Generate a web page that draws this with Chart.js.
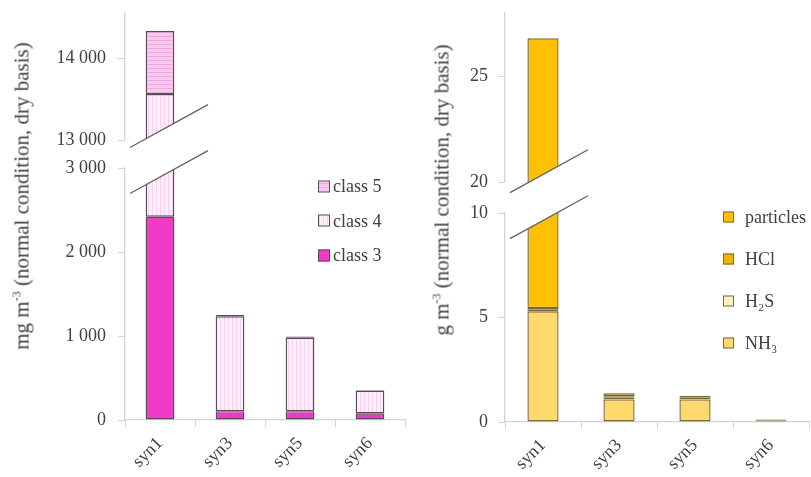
<!DOCTYPE html>
<html>
<head>
<meta charset="utf-8">
<script src="https://cdn.jsdelivr.net/npm/chart.js@4.4.1/dist/chart.umd.min.js"></script>
<style>
  body { margin: 0; background: #fff; font-family: "Liberation Serif", serif; color: #404040; }
  #wrap { position: relative; width: 811px; height: 477px; overflow: hidden; }
  .panel { position: absolute; top: 0; height: 477px; }
  .panel canvas { position: absolute; left: 0; top: 0; }
  .ytitle { position: absolute; white-space: nowrap; font-size: 21px; transform: translate(-50%, -50%) rotate(-90deg); }
  .ytitle sup { font-size: 12px; }
  .item { position: absolute; white-space: nowrap; font-size: 18px; display: flex; align-items: center; transform: translateY(-50%); }
  .box { display: inline-block; box-sizing: border-box; }
</style>
</head>
<body>
<div id="wrap">
  <div class="panel" id="left" style="left:0;width:410px">
    <canvas id="leftLow" width="410" height="477"></canvas>
    <canvas id="leftUp" width="410" height="477"></canvas>
  </div>
  <div class="panel" id="right" style="left:410px;width:401px">
    <canvas id="rightLow" width="401" height="477"></canvas>
    <canvas id="rightUp" width="401" height="477"></canvas>
  </div>
  <div class="ytitle" style="left:22px;top:196px">mg m<sup>-3</sup> (normal condition, dry basis)</div>
  <div class="ytitle" style="left:442px;top:190px">g m<sup>-3</sup> (normal condition, dry basis)</div>
</div>
<script>
// categories
const categories = ['syn1', 'syn3', 'syn5', 'syn6'];

// left panel, mg m-3 (stack order bottom -> top)
const class3 = [2420, 105, 105, 80];
const class4 = [11140, 1130, 875, 270];
const class5 = [770, 15, 15, 8];

// right panel, g m-3 (stack order bottom -> top)
const nh3 = [5.3, 1.08, 1.08, 0.08];
const h2s = [0.1, 0.08, 0.1, 0.04];
const hcl = [0.05, 0.07, 0.08, 0];
const particles = [21.35, 0.14, 0, 0];

// tick values of the broken axes
const leftUpTicks = [13000, 14000];
const leftLowTicks = [0, 1000, 2000, 3000];
const rightUpTicks = [20, 25];
const rightLowTicks = [0, 5, 10];

const txt = '#404040';
const axisCol = '#d4d4d4';
const font = { family: '"Liberation Serif", serif', size: 18 };

function stripes(bg, line, vertical) {
  const c = document.createElement('canvas');
  c.width = 4; c.height = 4;
  const g = c.getContext('2d');
  g.fillStyle = bg; g.fillRect(0, 0, 4, 4);
  g.fillStyle = line;
  if (vertical) g.fillRect(0, 0, 1, 4); else g.fillRect(0, 0, 4, 1);
  return g.createPattern(c, 'repeat');
}

const fmt = v => String(v).replace(/\B(?=(\d{3})+(?!\d))/g, ' ');

// white band with two slanted lines over the gap between the two value ranges
const breakPlugin = {
  id: 'axisBreak',
  afterDraw(chart, args, o) {
    const { ctx, chartArea: a, scales: { x } } = chart;
    const cx = x.getPixelForValue(0);
    const cy = (a.bottom + o.lowerTop) / 2;
    const k = 0.55, h = 23, x0 = a.left + 5, x1 = a.left + 83;
    const y = (xx, off) => cy + off - k * (xx - cx);
    ctx.save();
    ctx.beginPath();
    ctx.moveTo(x0, y(x0, -h)); ctx.lineTo(x1, y(x1, -h));
    ctx.lineTo(x1, y(x1, h)); ctx.lineTo(x0, y(x0, h));
    ctx.closePath();
    ctx.fillStyle = '#fff'; ctx.fill();
    ctx.strokeStyle = '#606060'; ctx.lineWidth = 1.3;
    ctx.beginPath();
    ctx.moveTo(x0, y(x0, -h)); ctx.lineTo(x1, y(x1, -h));
    ctx.moveTo(x0, y(x0, h)); ctx.lineTo(x1, y(x1, h));
    ctx.stroke();
    ctx.restore();
  }
};

function panelCharts(p) {
  const datasets = p.series.map(s => ({
    label: s.label, data: s.data, backgroundColor: s.color,
    borderColor: p.border, borderWidth: 1.4, borderSkipped: false,
    barPercentage: 0.82, categoryPercentage: 0.5
  }));
  const base = (min, max, ticks, showX, padding) => ({
    type: 'bar',
    data: { labels: categories, datasets },
    options: {
      responsive: false, animation: false,
      layout: { padding },
      plugins: { legend: { display: false }, tooltip: { enabled: false }, axisBreak: { lowerTop: p.lowTop } },
      scales: {
        x: {
          stacked: true, display: showX,
          afterFit: sc => { if (showX) sc.height = p.xHeight; },
          border: { color: axisCol, width: 1.3 },
          grid: { drawOnChartArea: false, tickLength: 7, color: axisCol, offset: true },
          ticks: { color: txt, font, minRotation: 45, maxRotation: 45, padding: 6 }
        },
        y: {
          stacked: true, min, max,
          // fixed width, and no extra room above/below for the end labels
          afterFit: sc => { sc.width = p.yWidth; sc.paddingTop = 0; sc.paddingBottom = 0; },
          afterBuildTicks: sc => { sc.ticks = ticks.map(v => ({ value: v })); },
          border: { color: axisCol, width: 1.3 },
          grid: { drawOnChartArea: false, drawTicks: true, tickLength: 7, color: axisCol },
          ticks: { color: txt, font, padding: p.yPad, callback: v => fmt(v) }
        }
      }
    }
  });
  new Chart(document.getElementById(p.lowId),
    base(p.lowRange[0], p.lowRange[1], p.lowTicks, true,
      { top: p.lowTop, right: p.padRight, left: 0, bottom: 0 }));
  const up = base(p.upRange[0], p.upRange[1], p.upTicks, false,
    { top: p.upTop, right: p.padRight, left: 0, bottom: 477 - p.upBottom });
  up.plugins = [breakPlugin];
  new Chart(document.getElementById(p.upId), up);
}

const leftSeries = [
  { label: 'class 3', data: class3, color: '#f23ac8' },
  { label: 'class 4', data: class4, color: stripes('#fdeffa', '#f6d2ef', true) },
  { label: 'class 5', data: class5, color: stripes('#f9c8ef', '#f1a8e1', false) }
];
const rightSeries = [
  { label: 'NH₃', data: nh3, color: '#ffd96e' },
  { label: 'H₂S', data: h2s, color: '#fff0c2' },
  { label: 'HCl', data: hcl, color: '#efb200' },
  { label: 'particles', data: particles, color: '#ffc000' }
];

panelCharts({
  lowId: 'leftLow', upId: 'leftUp', series: leftSeries, border: '#5a4856',
  lowRange: [0, 3000], upRange: [13000, 14550], lowTicks: leftLowTicks, upTicks: leftUpTicks,
  yWidth: 125, yPad: 12, padRight: 5, lowTop: 168, upTop: 13, upBottom: 140, xHeight: 57
});
panelCharts({
  lowId: 'rightLow', upId: 'rightUp', series: rightSeries, border: '#7a6838',
  lowRange: [0, 10], upRange: [20, 28], lowTicks: rightLowTicks, upTicks: rightUpTicks,
  yWidth: 95, yPad: 10, padRight: 2, lowTop: 213, upTop: 13, upBottom: 182, xHeight: 55
});

// legends, listed top -> bottom (reverse of stacking)
function legend(series, x, y0, dy, size, gap, border, css) {
  const wrap = document.getElementById('wrap');
  series.slice().reverse().forEach((s, i) => {
    const d = document.createElement('div');
    d.className = 'item';
    d.style.left = x + 'px';
    d.style.top = (y0 + i * dy) + 'px';
    const b = document.createElement('span');
    b.className = 'box';
    b.style.width = size + 'px'; b.style.height = size + 'px';
    b.style.marginRight = gap + 'px';
    b.style.border = '1.3px solid ' + border;
    b.style.background = css[s.label];
    d.appendChild(b);
    d.appendChild(document.createTextNode(s.label));
    wrap.appendChild(d);
  });
}
legend(leftSeries, 318, 186, 34.5, 12, 3, '#5a4856', {
  'class 3': '#f23ac8',
  'class 4': 'repeating-linear-gradient(90deg,#f6d2ef 0 1px,#fdeffa 1px 4px)',
  'class 5': 'repeating-linear-gradient(0deg,#f1a8e1 0 1px,#f9c8ef 1px 4px)'
});
legend(rightSeries, 723, 217, 42, 11, 11, '#7a6838', {
  'particles': '#ffc000', 'HCl': '#efb200', 'H₂S': '#fff0c2', 'NH₃': '#ffd96e'
});
</script>
</body>
</html>
